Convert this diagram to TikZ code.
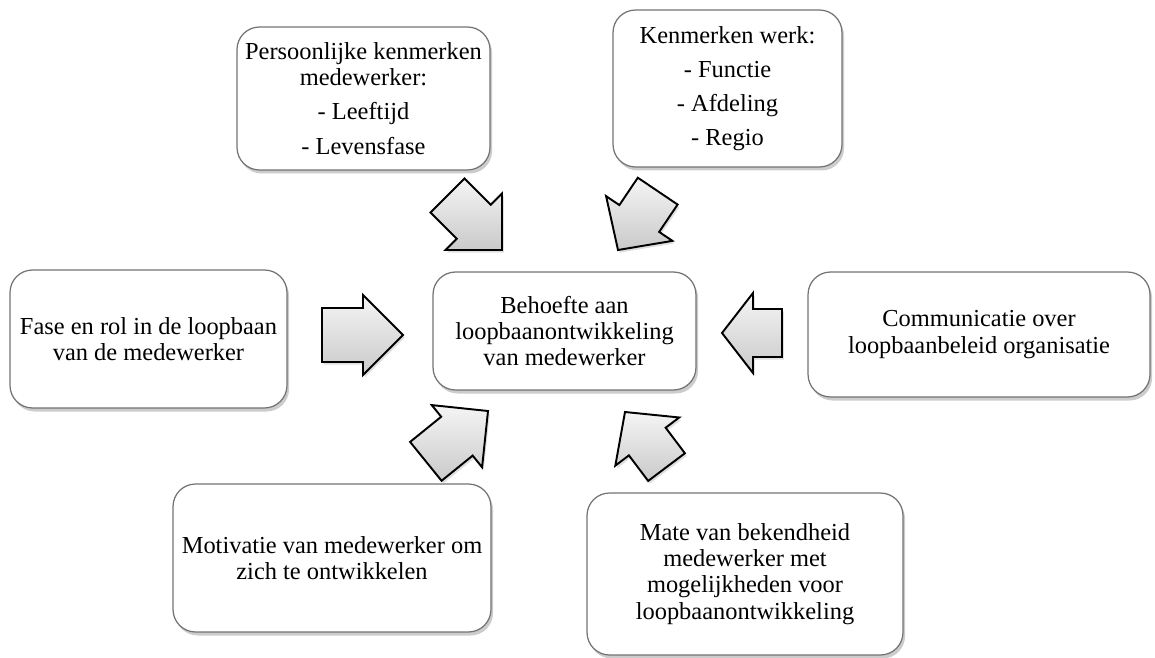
\documentclass[tikz,border=0pt]{standalone}
\usepackage{fontspec}
\setmainfont{Liberation Serif}
\usetikzlibrary{shadows,positioning}
\tikzset{
  box/.style={draw=black!55, line width=0.7pt, rounded corners=0.45cm, fill=white,
    align=center, inner sep=2pt, font=\fontsize{13.9}{14.9}\selectfont,
    drop shadow={opacity=0.4, shadow xshift=1.2pt, shadow yshift=-2pt}},
  inarrow/.style={draw=black, line width=1.1pt, line join=miter,
    top color=gray!8, bottom color=gray!42,
    drop shadow={opacity=0.25, shadow xshift=1pt, shadow yshift=-1.5pt}}
}
% tip, angle, head length, shaft length, shaft half width
\newcommand{\inarrow}[5]{%
  \draw[inarrow, shift={#1}, rotate=#2] (0,0) -- (-#3,40) -- (-#3,#5) -- ({-#3-#4},#5)
    -- ({-#3-#4},-#5) -- (-#3,-#5) -- (-#3,-40) -- cycle;}

\begin{document}
\begin{tikzpicture}[x=0.02cm, y=-0.02cm]
   \useasboundingbox (0,0) rectangle (1155,658);
   \node[box, minimum width=5.06cm, minimum height=2.86cm] (persoonlijk) at (363.5,98.5)
     {Persoonlijke kenmerken\\ medewerker:\\[4.5pt] - Leeftijd\\[4.5pt] - Levensfase};
   \node[box, minimum width=4.58cm, minimum height=3.14cm] (werk) at (727.5,88.5)
     {Kenmerken werk:\\[4.5pt] - Functie\\[4.5pt] - Afdeling\\[4.5pt] - Regio};
   \node[box, minimum width=5.54cm, minimum height=2.76cm] (fase) at (148.5,339)
     {Fase en rol in de loopbaan\\ van de medewerker};
   \node[box, minimum width=5.26cm, minimum height=2.36cm] (behoefte) at (564.5,331)
     {Behoefte aan\\ loopbaanontwikkeling\\ van medewerker};
   \node[box, minimum width=6.84cm, minimum height=2.5cm] (communicatie) at (979,334.5)
     {Communicatie over\\ loopbaanbeleid organisatie};
   \node[box, minimum width=6.36cm, minimum height=2.96cm] (motivatie) at (332,558)
     {Motivatie van medewerker om\\ zich te ontwikkelen};
   \node[box, minimum width=6.32cm, minimum height=3.24cm] (bekendheid) at (745,574)
     {Mate van bekendheid\\ medewerker met\\ mogelijkheden voor\\ loopbaanontwikkeling};
   \inarrow{(403,335)}{0}{40}{41}{27}
   \inarrow{(722,333)}{180}{31}{29}{24}
   \inarrow{(502,250)}{-45}{40}{37}{24}
   \inarrow{(618,250)}{236}{38}{33}{24}
   \inarrow{(488,411)}{39}{40}{40}{25}
   \inarrow{(625,412)}{127}{37}{32}{23}
\end{tikzpicture}
\end{document}
